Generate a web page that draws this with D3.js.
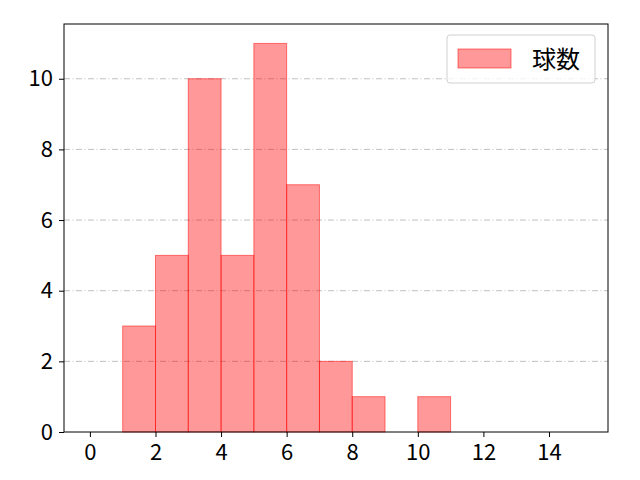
<!DOCTYPE html>
<html>
<head>
<meta charset="utf-8">
<script src="https://cdn.jsdelivr.net/npm/d3@7"></script>
<style>
  body { margin: 0; background: white; }
  text { font-family: "Noto Sans CJK JP", sans-serif; }
</style>
</head>
<body>
<svg id="chart" width="640" height="480"></svg>
<script>
// histogram bins (left edge) and counts
const binStarts = [1, 2, 3, 4, 5, 6, 7, 8, 9, 10]
const counts = [3, 5, 10, 5, 11, 7, 2, 1, 0, 1]
const xTicks = [0, 2, 4, 6, 8, 10, 12, 14]
const yTicks = [0, 2, 4, 6, 8, 10]
const seriesName = '球数'

const margin = {left: 64, right: 32, top: 24, bottom: 48}
const W = 640, H = 480

const svg = d3.select('#chart')

const x = d3.scaleLinear().domain([-0.79, 15.8]).range([margin.left, W - margin.right])
const y = d3.scaleLinear().domain([0, 11.55]).range([H - margin.bottom, margin.top])

// grid
svg.append('g').selectAll('line').data(yTicks.slice(1)).enter().append('line')
  .attr('x1', margin.left).attr('x2', W - margin.right)
  .attr('y1', d => y(d)).attr('y2', d => y(d))
  .attr('stroke', '#b0b0b0').attr('stroke-width', 0.8)
  .attr('stroke-dasharray', '6,2.5,1,2.5')

// bars
svg.append('g').selectAll('rect').data(binStarts).enter().append('rect')
  .attr('x', d => x(d))
  .attr('width', d => x(d + 1) - x(d))
  .attr('y', (d, i) => y(counts[i]))
  .attr('height', (d, i) => y(0) - y(counts[i]))
  .attr('fill', 'rgba(255,0,0,0.4)')
  .attr('stroke', 'rgba(255,0,0,0.5)')
  .attr('stroke-width', 1)

// axes
const xAxis = svg.append('g').attr('transform', `translate(0,${H - margin.bottom})`)
  .call(d3.axisBottom(x).tickValues(xTicks).tickSize(5).tickPadding(7).tickFormat(d3.format('d')))
const yAxis = svg.append('g').attr('transform', `translate(${margin.left},0)`)
  .call(d3.axisLeft(y).tickValues(yTicks).tickSize(5).tickPadding(6).tickFormat(d3.format('d')))
;[xAxis, yAxis].forEach(a => {
  a.attr('font-size', null).attr('font-family', null)
  a.select('.domain').remove()
  a.selectAll('.tick line').attr('stroke', '#000').attr('stroke-width', 1)
  a.selectAll('.tick text').style('font-size', '22px').attr('fill', '#000')
})

// frame
svg.append('rect')
  .attr('x', margin.left).attr('y', margin.top)
  .attr('width', W - margin.left - margin.right).attr('height', H - margin.top - margin.bottom)
  .attr('fill', 'none').attr('stroke', '#000').attr('stroke-width', 1)

// legend
const lg = svg.append('g').attr('transform', 'translate(447,35)')
lg.append('rect').attr('width', 148).attr('height', 48).attr('rx', 3)
  .attr('fill', 'rgba(255,255,255,0.8)').attr('stroke', '#d0d0d0')
lg.append('rect').attr('x', 11).attr('y', 14).attr('width', 53).attr('height', 19)
  .attr('fill', 'rgba(255,0,0,0.4)').attr('stroke', 'rgba(255,0,0,0.5)')
lg.append('text').attr('x', 85).attr('y', 33).style('font-size', '24px').text(seriesName)
</script>
</body>
</html>
